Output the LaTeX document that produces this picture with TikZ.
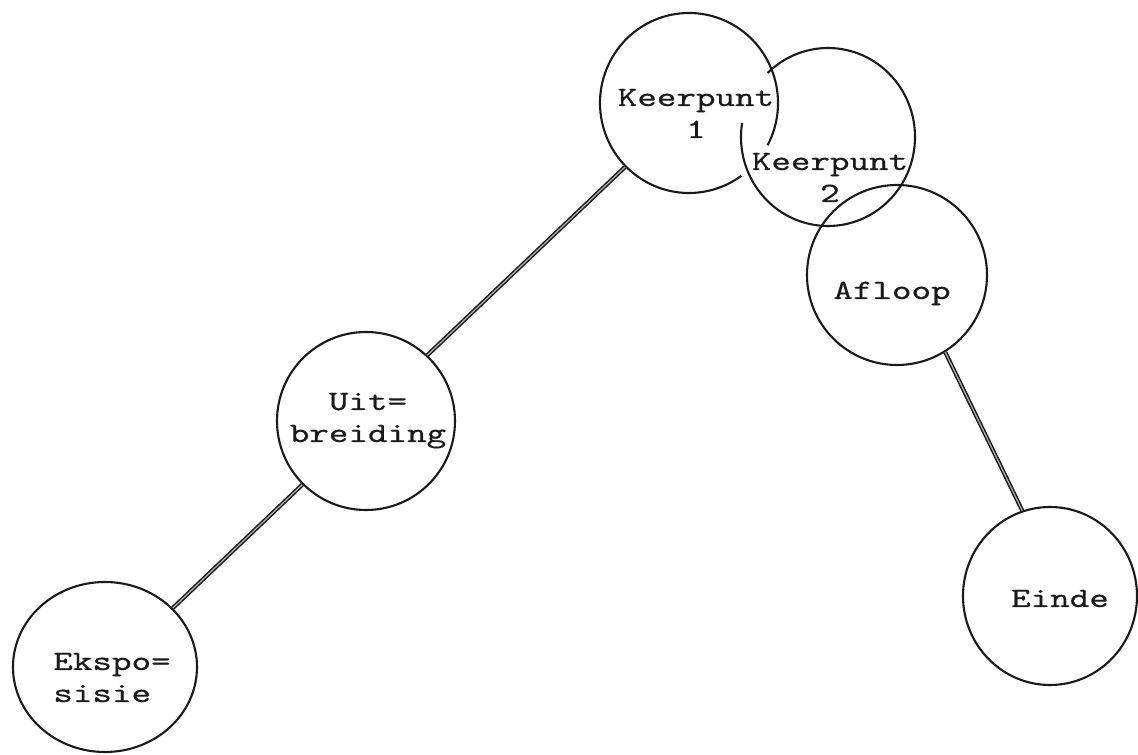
\documentclass[tikz,border=0pt]{standalone}
\usepackage{fontspec}
\newfontfamily\typewriter{lmmono10}[Extension=.otf, UprightFont=*-regular, FakeStretch=1.33, FakeBold=0.4]
\usetikzlibrary{shapes.geometric}
\definecolor{ink}{HTML}{1A1A1A}
\tikzset{
  ring/.style={ellipse, draw=ink, line width=2.1pt, inner sep=0pt},
  ringline/.style={draw=ink, line width=2.1pt},
  words/.style={font=\typewriter\fontsize{28}{32}\selectfont, align=center, anchor=base, inner sep=0pt, text=ink},
  rail/.style={draw=ink, line width=1.5pt, double=gray!60, double distance=1.2pt}
}
\begin{document}
\begin{tikzpicture}[x=1pt,y=1pt]
  \fill[white] (0,0) rectangle (1138,755);
  \path[use as bounding box] (0,0) rectangle (1138,755);

  % stages of the plot
  \node[ring, minimum width=184pt, minimum height=170pt] (eks) at (105,88) {};
  \node[ring, minimum width=178pt, minimum height=178pt] (uit) at (366,334) {};
  \node[ring, draw=none, minimum width=178pt, minimum height=180pt] (k1) at (689,652) {};
  \node[ring, draw=none, minimum width=174pt, minimum height=178pt] (k2) at (828,618) {};
  \node[ring, minimum width=180pt, minimum height=180pt] (afl) at (897,480) {};
  \node[ring, minimum width=174pt, minimum height=178pt] (ein) at (1050,159) {};

  % the two turning points interlock
  \draw[ringline] (k1.center) ++(-28:89 and 90) arc[start angle=-28, end angle=306, x radius=89, y radius=90];
  \draw[ringline] (k2.center) ++(171:87 and 89) arc[start angle=171, end angle=494, x radius=87, y radius=89];

  % texts (base anchor sits on the last line)
  \node[words, align=left] (teks) at (112,53) {Ekspo=\\sisie};
  \node[words] (tuit) at (368,313) {Uit=\\breiding};
  \node[words] (tk1) at (696,617) {Keerpunt\\1};
  \node[words] (tk2) at (830,553) {Keerpunt\\2};
  \node[words] (tafl) at (892,456) {Afloop};
  \node[words] (tein) at (1060,148) {Einde};

  % connecting rails
  \draw[rail] (eks.41) -- (uit.225);
  \draw[rail] (uit.47) -- (k1.225);
  \draw[rail] (afl.-58) -- (ein.108);
\end{tikzpicture}
\end{document}
